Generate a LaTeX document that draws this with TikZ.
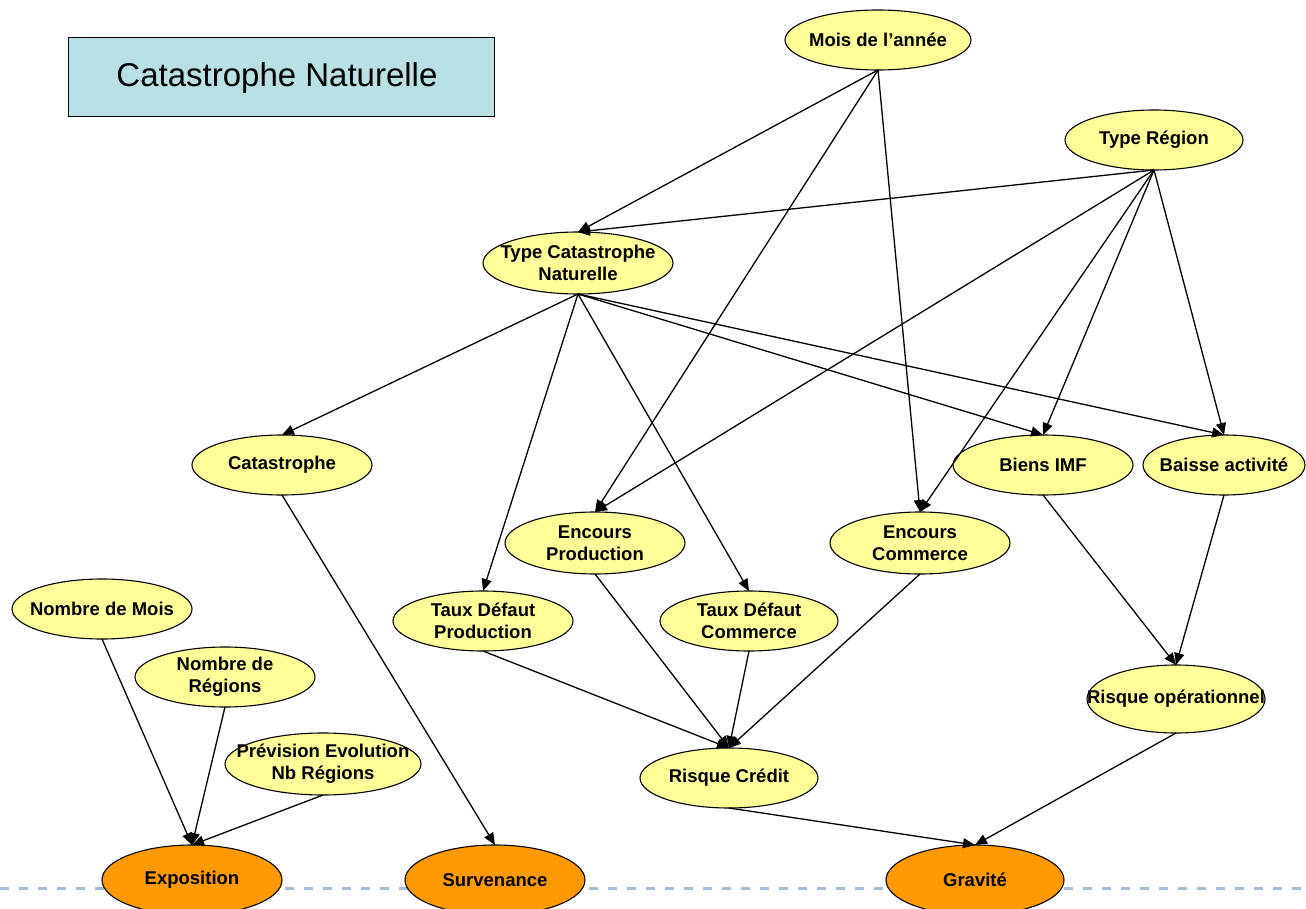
\documentclass[tikz,border=0pt]{standalone}
\usepackage{fontspec}
\setmainfont{Liberation Sans}
\usetikzlibrary{shapes.geometric,arrows.meta}
\definecolor{yel}{RGB}{255,255,153}
\definecolor{ora}{RGB}{255,153,0}
\definecolor{ttl}{RGB}{185,224,228}
\definecolor{dsh}{RGB}{166,189,215}
\tikzset{
  elbox/.style={ellipse, draw=black, line width=1.1pt, inner sep=0pt, outer sep=0pt},
  yb/.style={elbox, fill=yel},
  ob/.style={elbox, fill=ora},
  txt/.style={font=\fontsize{18.5}{22}\selectfont\bfseries, align=center, inner sep=0pt},
  arr/.style={line width=1.3pt, -{Triangle[length=12pt,width=10pt]}},
}
\newcommand{\elnode}[7]{%
  \node[#6, minimum width=#4, minimum height=#5] (#1) at (#2,#3) {};
  \node[txt] (#1-t) at (#1) {#7};}
\begin{document}
\begin{tikzpicture}[x=1pt,y=-1pt]
\useasboundingbox (0,0) rectangle (1306,909);
\coordinate (dl) at (0,888);
\coordinate (dr) at (1306,888);
\draw[dsh, line width=3pt, dash pattern=on 9pt off 10pt] (dl) -- (dr);
\node[draw=black, line width=1pt, fill=ttl, minimum width=426, minimum height=79, anchor=north west,
      inner sep=0pt] (title) at (68,37) {};
\node[font=\fontsize{33}{38}\selectfont, inner sep=0pt] (title-t) at (277,78) {Catastrophe Naturelle};
\elnode{mois}{878}{40}{186}{60}{yb}{Mois de l’année}
\elnode{treg}{1154}{140}{178}{60}{yb}{Type Région}
\elnode{tcat}{578}{263}{190}{62}{yb}{Type Catastrophe\\Naturelle}
\elnode{cata}{282}{465}{180}{60}{yb}{Catastrophe}
\elnode{biens}{1043}{465}{180}{60}{yb}{Biens IMF}
\elnode{baisse}{1224}{465}{162}{60}{yb}{Baisse activité}
\elnode{ep}{595}{543}{180}{62}{yb}{Encours\\Production}
\elnode{ec}{920}{543}{180}{62}{yb}{Encours\\Commerce}
\elnode{tdp}{483}{621}{180}{60}{yb}{Taux Défaut\\Production}
\elnode{tdc}{749}{621}{178}{60}{yb}{Taux Défaut\\Commerce}
\elnode{nmois}{102}{609}{180}{60}{yb}{Nombre de Mois}
\elnode{nreg}{225}{677}{180}{60}{yb}{Nombre de\\Régions}
\elnode{prev}{323}{764}{196}{62}{yb}{Prévision Evolution\\Nb Régions}
\elnode{rc}{729}{778}{178}{60}{yb}{Risque Crédit}
\elnode{rop}{1176}{699}{178}{68}{yb}{Risque opérationnel}
\elnode{expo}{192}{880}{180}{70}{ob}{Exposition}
\elnode{surv}{495}{880}{180}{70}{ob}{Survenance}
\elnode{grav}{975}{880}{178}{70}{ob}{Gravité}
% edges
\draw[arr] (mois.south) -- (tcat.north);
\draw[arr] (mois.south) -- (ep.north);
\draw[arr] (mois.south) -- (ec.north);
\draw[arr] (treg.south) -- (tcat.north);
\draw[arr] (treg.south) -- (ep.north);
\draw[arr] (treg.south) -- (ec.north);
\draw[arr] (treg.south) -- (biens.north);
\draw[arr] (treg.south) -- (baisse.north);
\draw[arr] (tcat.south) -- (cata.north);
\draw[arr] (tcat.south) -- (tdp.north);
\draw[arr] (tcat.south) -- (tdc.north);
\draw[arr] (tcat.south) -- (biens.north);
\draw[arr] (tcat.south) -- (baisse.north);
\draw[arr] (cata.south) -- (surv.north);
\draw[arr] (biens.south) -- (rop.north);
\draw[arr] (baisse.south) -- (rop.north);
\draw[arr] (ep.south) -- (rc.north);
\draw[arr] (tdp.south) -- (rc.north);
\draw[arr] (tdc.south) -- (rc.north);
\draw[arr] (ec.south) -- (rc.north);
\draw[arr] (nmois.south) -- (expo.north);
\draw[arr] (nreg.south) -- (expo.north);
\draw[arr] (prev.south) -- (expo.north);
\draw[arr] (rc.south) -- (grav.north);
\draw[arr] (rop.south) -- (grav.north);
\end{tikzpicture}
\end{document}
